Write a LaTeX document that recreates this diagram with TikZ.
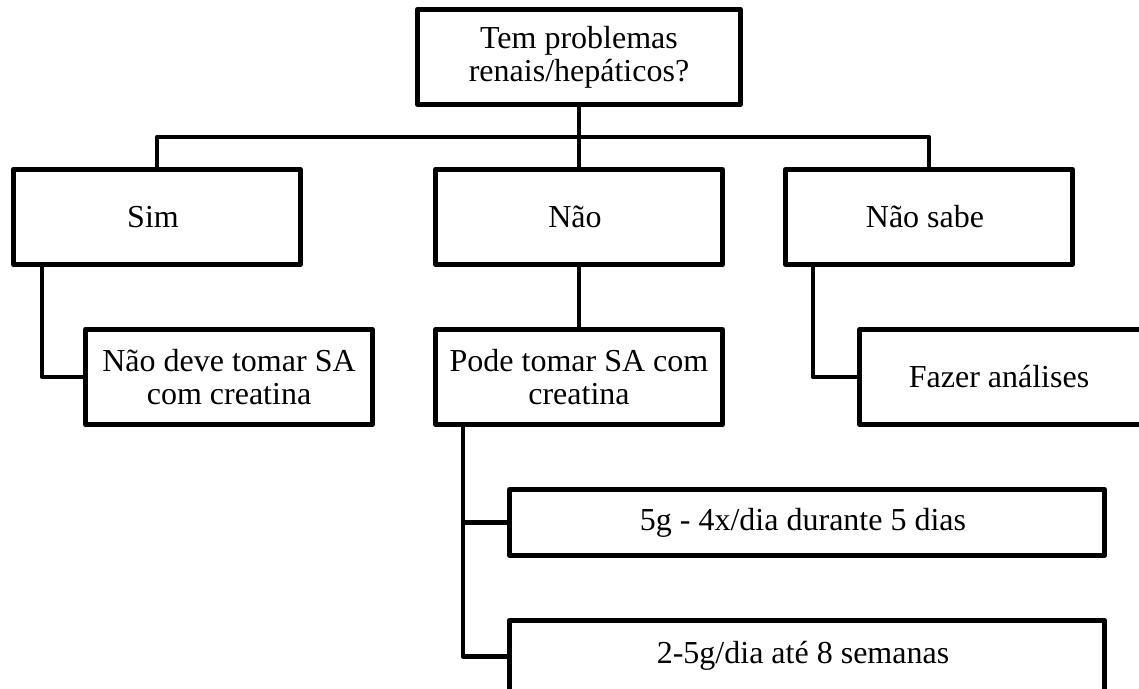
\documentclass[tikz,border=0pt]{standalone}
\usepackage{fontspec}
\setmainfont{Liberation Serif}
\usetikzlibrary{positioning,calc}

\begin{document}
\begin{tikzpicture}[
  x=0.5pt, y=-0.5pt,
  node distance=30pt,
  line width=2.4pt, line join=round,
  every node/.style={font=\fontsize{16}{16.5}\selectfont, align=center},
  box/.style={draw, minimum width=143.6pt, minimum height=47.6pt, inner sep=2pt},
  topbox/.style={box, minimum width=161.6pt},
  dosebox/.style={box, minimum width=297.6pt, minimum height=33pt}
]
  \clip (0,0) rectangle (1139,689);

  \node (q) [topbox] at (579,57) { Tem problemas\\renais/hepáticos? };

  \node (nao) [below=of q, box] { Não };
  \node (sim) [left=65pt of nao, box] { Sim };
  \node (naosabe) [right=29pt of nao, box] { Não sabe };

  \node (simres) [below=of sim, box, xshift=36pt] { Não deve tomar SA\\com creatina };
  \node (naores) [below=of nao, box] { Pode tomar SA com\\creatina };
  \node (naosaberes) [below=of naosabe, box, xshift=37pt] { Fazer análises };

  \node (dose1) [below=of naores, dosebox, xshift=114pt] { 5g - 4x/dia durante 5 dias };
  \node (dose2) [below=of dose1, dosebox, minimum height=36pt] { 2-5g/dia até 8 semanas };

  \coordinate (bar) at ($(q.south)!.5!(nao.north)$);
  \draw (q) -- (nao);
  \draw (sim.north) |- (bar) -| (naosabe.north);

  \draw ([xshift=15.5pt]sim.south west) |- (simres.west);
  \draw (nao) -- (naores);
  \draw ([xshift=15pt]naosabe.south west) |- (naosaberes.west);

  \draw ([xshift=15pt]naores.south west) |- (dose1.west);
  \draw ([xshift=15pt]naores.south west) |- (dose2.west);

\end{tikzpicture}
\end{document}
